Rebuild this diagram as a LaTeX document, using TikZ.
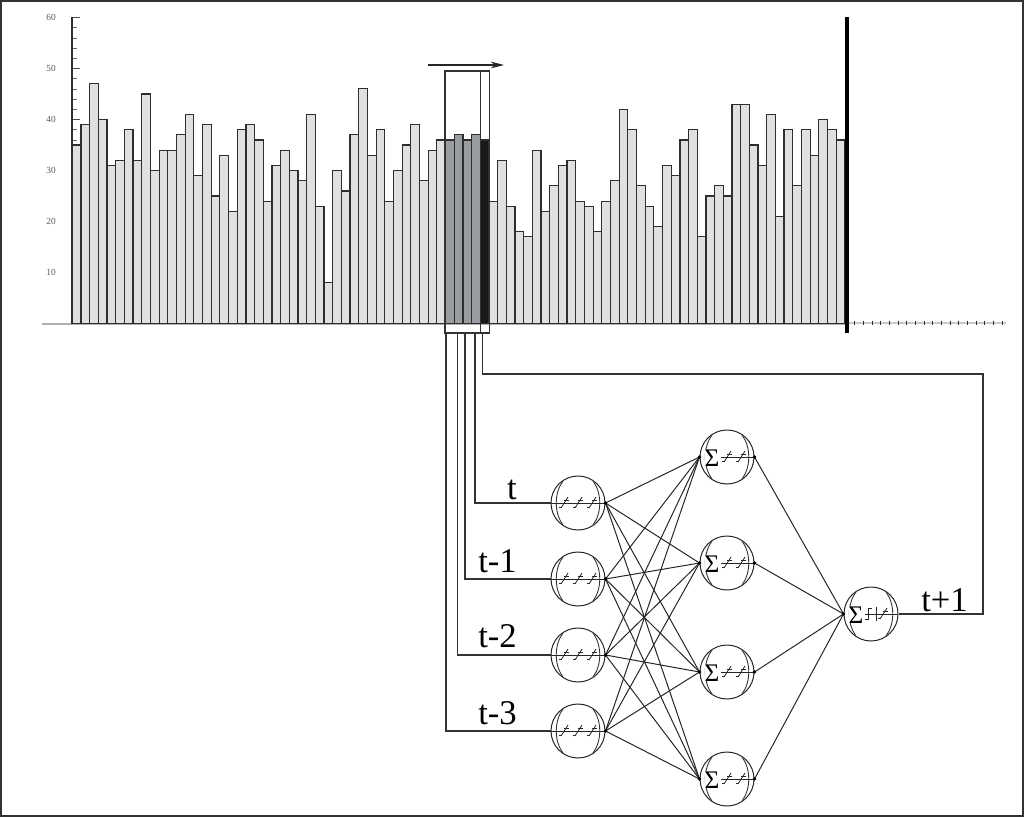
\documentclass[tikz,border=0pt]{standalone}
\usepackage{fontspec}
\setmainfont{Liberation Serif}
\usetikzlibrary{arrows.meta}
\definecolor{barfill}{HTML}{E0E0E0}
\definecolor{winfill}{HTML}{999CA1}
\definecolor{edge}{HTML}{2E2E2E}
\definecolor{axisgray}{HTML}{B0B0B0}
\newcommand\myseams{%
  \draw[seam] (-15,-22) .. controls (-24,-10) and (-24,10) .. (-15,22);
  \draw[seam] (15,-22) .. controls (24,-10) and (24,10) .. (15,22);}
\newcommand\myglyph[1]{%
  \draw[glyph] (#1-4,5) -- (#1+3,-6);
  \draw[glyph] (#1-1,-3) -- (#1+4,-3);
  \draw[glyph] (#1-4,4) -- (#1-6,4);}
\begin{document}
\begin{tikzpicture}[x=0.75pt,y=-0.75pt,
  bar/.style={draw=edge,line width=0.9pt},
  neuron/.style={circle,draw=black!85,line width=0.75pt,minimum size=40.5pt,inner sep=0pt,fill=white},
  seam/.style={draw=black!80,line width=0.65pt},
  glyph/.style={draw=black!85,line width=0.6pt},
  conn/.style={draw=black!85,line width=0.75pt},
  wire/.style={draw=black!80,line width=0.8pt},
  lbl/.style={font=\fontsize{26}{26}\selectfont,inner sep=0pt},
  ylab/.style={font=\fontsize{7}{7}\selectfont,text=black!65,inner sep=0pt},
  sig/.style={font=\fontsize{19}{19}\selectfont,inner sep=0pt,fill=white},
  dot/.style={circle,fill=black,inner sep=0pt,minimum size=2.8pt}]
\useasboundingbox (0,0) rectangle (1024,817);
\draw[black!80,line width=1.6pt] (1,1) rectangle (1023,816);
% y axis ticks and labels
\foreach \v in {2,4,...,60}{
  \pgfmathsetmacro\yy{323.5-\v*5.1}
  \pgfmathtruncatemacro\mm{mod(\v,10)}
  \ifnum\mm=0 \draw[black!70,line width=0.6pt] (72,\yy) -- (80,\yy);
  \else \draw[black!60,line width=0.5pt] (72,\yy) -- (77,\yy); \fi}
\foreach \v in {10,20,...,60}{
  \node[ylab,anchor=east] (yl\v) at (56,323.5-\v*5.1) {\v};}
% baseline
\draw[axisgray,line width=1.2pt] (42,324) -- (847,324);
\draw[axisgray!70,line width=0.8pt] (847,323) -- (1006,323);
\foreach \k in {1,...,18}{
  \draw[black!80,line width=0.8pt] (846+\k*8.68,320.5) -- (846+\k*8.68,324.5);}
% bars
\foreach \v [count=\i] in {35,39,47,40,31,32,38,32,45,30,34,34,37,41,29,39,25,33,22,38,39,36,24,31,34,30,28,41,23,8,30,26,37,46,33,38,24,30,35,39,28,34,36,36,37,36,37,36,24,32,23,18,17,34,22,27,31,32,24,23,18,24,28,42,38,27,23,19,31,29,36,38,17,25,27,25,43,43,35,31,41,21,38,27,38,33,40,38,36}{
  \pgfmathsetmacro\xl{72.3+(\i-1)*8.68}
  \pgfmathsetmacro\xr{\xl+8.68}
  \pgfmathsetmacro\yt{323.5-\v*5.1}
  \ifnum\i<44 \def\fc{barfill}\else\ifnum\i<48 \def\fc{winfill}\else\ifnum\i=48 \def\fc{black!90}\else\def\fc{barfill}\fi\fi\fi
  \draw[bar,fill=\fc] (\xl,323.5) rectangle (\xr,\yt);}
% y axis line
\draw[edge,line width=1.1pt] (72,17) -- (72,324);
% end marker
\draw[black,line width=2.4pt] (847,17) -- (847,333);
% sliding window
\draw[black!80,line width=0.8pt] (445,71) rectangle (489.3,333);
\draw[black!80,line width=0.8pt] (480.3,71) -- (480.3,333);
\coordinate (a0) at (428,65);
\coordinate (a1) at (504,65);
\draw[black!85,line width=0.8pt,-{Stealth[length=10pt,width=5pt]}] (a0) -- (a1);
% window taps
\coordinate (w3) at (446,333);
\coordinate (w2) at (457.5,333);
\coordinate (w1) at (465,333);
\coordinate (w0) at (475,333);
\coordinate (w4) at (482.5,333);
\coordinate (fb) at (983,374);
% neurons
\node[neuron] (i0) at (578,503) {};
\node[neuron] (i1) at (578,579) {};
\node[neuron] (i2) at (578,655) {};
\node[neuron] (i3) at (578,731) {};
\node[neuron] (h1) at (727,457) {};
\node[neuron] (h2) at (727,563) {};
\node[neuron] (h3) at (727,672) {};
\node[neuron] (h4) at (727,779) {};
\node[neuron] (o) at (871,614) {};
% wires
\draw[wire] (w0) |- (i0.west);
\draw[wire] (w1) |- (i1.west);
\draw[wire] (w2) |- (i2.west);
\draw[wire] (w3) |- (i3.west);
\draw[wire] (w4) |- (fb) |- (o.east);
% connections
\foreach \a in {i0,i1,i2,i3}{
  \foreach \b in {h1,h2,h3,h4}{
    \draw[conn] (\a.east) -- (\b.west);}}
\foreach \b in {h1,h2,h3,h4}{
  \draw[conn] (\b.east) -- (o.west);}
% neuron internals
\foreach \n in {i0,i1,i2,i3}{
  \begin{scope}[shift={(\n.center)}]
    \myseams
    \draw[glyph] (-27,0) -- (27,0);
    \myglyph{-13}\myglyph{1}\myglyph{15}
  \end{scope}
  \node[dot] (d\n) at (\n.east) {};}
\foreach \n in {h1,h2,h3,h4}{
  \begin{scope}[shift={(\n.center)}]
    \myseams
    \draw[glyph] (-6,0) -- (27,0);
    \myglyph{1}\myglyph{15}
    \node[sig] (s\n) at (-15,1) {Σ};
  \end{scope}
  \node[dot] (dl\n) at (\n.west) {};
  \node[dot] (dr\n) at (\n.east) {};}
\begin{scope}[shift={(o.center)}]
  \myseams
  \draw[glyph] (-6,0) -- (27,0);
  \draw[glyph] (-6,5) -- (-3,5) -- (-3,-6) -- (1,-6);
  \draw[glyph] (5,-7) -- (5,7);
  \myglyph{13}
  \node[sig] (so) at (-15,1) {Σ};
\end{scope}
\node[dot] (dlo) at (o.west) {};
% labels
\node[lbl,anchor=base] (lt) at (512,499) {t};
\node[lbl,anchor=base west] (lt1) at (478,572) {t-1};
\node[lbl,anchor=base west] (lt2) at (478,647) {t-2};
\node[lbl,anchor=base west] (lt3) at (478,724) {t-3};
\node[lbl,anchor=base west] (ltp) at (921,611) {t+1};
\end{tikzpicture}
\end{document}
